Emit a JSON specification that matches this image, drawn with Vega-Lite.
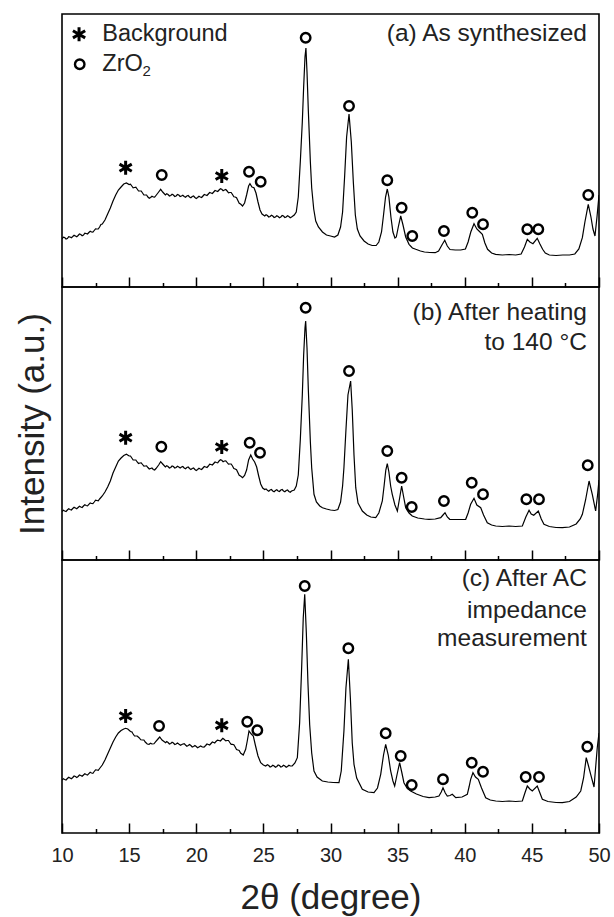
{
"$schema":"https://vega.github.io/schema/vega-lite/v6.json",
"padding":{"left":14,"top":13,"right":0,"bottom":0},
"background":"white",
"config":{"font":"Liberation Sans","view":{"stroke":"black","strokeWidth":1.6},"axis":{"grid":false}},
"datasets":{
"curveA":[{"t":10.0,"i":48},{"t":10.2,"i":49.5},{"t":10.4,"i":48.5},{"t":10.6,"i":50},{"t":10.8,"i":50.5},{"t":11.0,"i":51},{"t":11.2,"i":51.5},{"t":11.4,"i":52.5},{"t":11.6,"i":52},{"t":11.8,"i":53.5},{"t":12.0,"i":54.5},{"t":12.2,"i":55},{"t":12.4,"i":56.5},{"t":12.6,"i":58},{"t":12.8,"i":60},{"t":13.0,"i":63},{"t":13.2,"i":67},{"t":13.4,"i":73},{"t":13.6,"i":79},{"t":13.8,"i":86},{"t":14.0,"i":92},{"t":14.2,"i":97},{"t":14.4,"i":100},{"t":14.6,"i":103},{"t":14.8,"i":104},{"t":15.0,"i":102.5},{"t":15.2,"i":101},{"t":15.4,"i":99.5},{"t":15.6,"i":98},{"t":15.8,"i":96},{"t":16.0,"i":94},{"t":16.2,"i":92},{"t":16.4,"i":90},{"t":16.6,"i":89.5},{"t":16.8,"i":90},{"t":17.0,"i":91.5},{"t":17.2,"i":95},{"t":17.35,"i":97.7},{"t":17.5,"i":95},{"t":17.7,"i":92},{"t":17.9,"i":92.5},{"t":18.1,"i":91.5},{"t":18.3,"i":92},{"t":18.5,"i":91},{"t":18.7,"i":92},{"t":18.9,"i":91},{"t":19.1,"i":90.5},{"t":19.3,"i":91},{"t":19.5,"i":90},{"t":19.7,"i":90.5},{"t":19.9,"i":89.5},{"t":20.1,"i":89.5},{"t":20.3,"i":90},{"t":20.5,"i":91},{"t":20.7,"i":92},{"t":20.9,"i":93},{"t":21.1,"i":94},{"t":21.3,"i":95},{"t":21.5,"i":96},{"t":21.7,"i":97},{"t":21.9,"i":97.7},{"t":22.1,"i":97},{"t":22.3,"i":96},{"t":22.5,"i":94.5},{"t":22.7,"i":92.5},{"t":22.9,"i":90},{"t":23.1,"i":86.5},{"t":23.3,"i":83},{"t":23.45,"i":81},{"t":23.6,"i":84},{"t":23.75,"i":92},{"t":23.9,"i":101},{"t":24.0,"i":103.3},{"t":24.15,"i":100},{"t":24.3,"i":99.3},{"t":24.45,"i":94},{"t":24.6,"i":85},{"t":24.75,"i":77},{"t":24.9,"i":73},{"t":25.1,"i":71},{"t":25.3,"i":71.5},{"t":25.5,"i":70.5},{"t":25.7,"i":71},{"t":25.9,"i":70},{"t":26.1,"i":70.5},{"t":26.3,"i":70},{"t":26.5,"i":71},{"t":26.7,"i":70},{"t":26.9,"i":70.5},{"t":27.1,"i":70},{"t":27.3,"i":72},{"t":27.45,"i":75},{"t":27.6,"i":90},{"t":27.75,"i":125},{"t":27.9,"i":165},{"t":28.0,"i":200},{"t":28.1,"i":230},{"t":28.17,"i":239},{"t":28.25,"i":215},{"t":28.35,"i":176},{"t":28.5,"i":125},{"t":28.6,"i":99},{"t":28.75,"i":78},{"t":28.9,"i":66},{"t":29.1,"i":60},{"t":29.4,"i":55},{"t":29.7,"i":52},{"t":30.0,"i":51},{"t":30.3,"i":50},{"t":30.55,"i":52},{"t":30.75,"i":60},{"t":30.9,"i":75},{"t":31.05,"i":110},{"t":31.2,"i":150},{"t":31.38,"i":173},{"t":31.55,"i":145},{"t":31.7,"i":105},{"t":31.85,"i":72},{"t":32.0,"i":58},{"t":32.2,"i":51},{"t":32.5,"i":46},{"t":32.8,"i":43},{"t":33.1,"i":41.5},{"t":33.4,"i":41.5},{"t":33.6,"i":45},{"t":33.8,"i":55},{"t":33.95,"i":72},{"t":34.1,"i":90},{"t":34.23,"i":98},{"t":34.35,"i":90},{"t":34.5,"i":70},{"t":34.65,"i":55},{"t":34.8,"i":49},{"t":34.9,"i":50},{"t":35.05,"i":60},{"t":35.23,"i":71},{"t":35.4,"i":62},{"t":35.6,"i":50},{"t":35.85,"i":42.7},{"t":36.1,"i":39},{"t":36.35,"i":37.7},{"t":36.7,"i":36},{"t":37.0,"i":35},{"t":37.4,"i":34.5},{"t":37.8,"i":34.3},{"t":38.05,"i":36},{"t":38.3,"i":42},{"t":38.51,"i":46.7},{"t":38.7,"i":41},{"t":38.9,"i":37.5},{"t":39.3,"i":37},{"t":39.7,"i":37},{"t":40.05,"i":38},{"t":40.25,"i":45},{"t":40.45,"i":55},{"t":40.69,"i":63.3},{"t":40.9,"i":58},{"t":41.06,"i":56},{"t":41.31,"i":52.7},{"t":41.5,"i":44},{"t":41.7,"i":37.7},{"t":42.0,"i":34},{"t":42.3,"i":32.7},{"t":42.8,"i":32},{"t":43.3,"i":32.5},{"t":43.8,"i":32},{"t":44.2,"i":33},{"t":44.45,"i":40},{"t":44.66,"i":47.7},{"t":44.85,"i":45},{"t":45.08,"i":43.3},{"t":45.4,"i":48.7},{"t":45.6,"i":43},{"t":45.8,"i":37.7},{"t":46.0,"i":34},{"t":46.3,"i":32},{"t":46.8,"i":31.5},{"t":47.3,"i":32},{"t":47.8,"i":32},{"t":48.2,"i":33},{"t":48.5,"i":38},{"t":48.76,"i":49.3},{"t":48.95,"i":65},{"t":49.2,"i":82.7},{"t":49.4,"i":70},{"t":49.55,"i":58},{"t":49.7,"i":51},{"t":49.85,"i":70},{"t":50.0,"i":92},
{"t":10.1,"i":49.8},{"t":10.3,"i":48},{"t":10.5,"i":50.3},{"t":10.7,"i":49.3},{"t":10.9,"i":51.8},{"t":11.1,"i":50.2},{"t":11.3,"i":53},{"t":11.5,"i":51.2},{"t":11.7,"i":53.8},{"t":11.9,"i":53},{"t":12.1,"i":55.8},{"t":12.3,"i":54.8},{"t":12.5,"i":58.2},{"t":12.7,"i":58},{"t":12.9,"i":62.5},{"t":15.1,"i":102.8},{"t":15.3,"i":99.2},{"t":15.5,"i":99.8},{"t":15.7,"i":96},{"t":15.9,"i":96},{"t":16.1,"i":92},{"t":16.3,"i":92},{"t":16.5,"i":88.8},{"t":16.7,"i":90.8},{"t":16.9,"i":89.8},{"t":17.8,"i":93.3},{"t":18.0,"i":91},{"t":18.2,"i":92.8},{"t":18.4,"i":90.5},{"t":18.6,"i":92.5},{"t":18.8,"i":90.5},{"t":19.0,"i":91.8},{"t":19.2,"i":89.8},{"t":19.4,"i":91.5},{"t":19.6,"i":89.2},{"t":19.8,"i":91},{"t":20.0,"i":88.5},{"t":20.2,"i":90.8},{"t":20.4,"i":89.5},{"t":20.6,"i":92.5},{"t":20.8,"i":91.5},{"t":21.0,"i":94.5},{"t":21.2,"i":93.5},{"t":21.4,"i":96.5},{"t":21.6,"i":95.5},{"t":21.8,"i":98.3},{"t":22.0,"i":96.3},{"t":22.2,"i":97.5},{"t":22.4,"i":94.2},{"t":22.6,"i":94.5},{"t":22.8,"i":90.2},{"t":23.0,"i":89.2},{"t":23.2,"i":83.8},{"t":25.2,"i":72.3},{"t":25.4,"i":70},{"t":25.6,"i":71.8},{"t":25.8,"i":69.5},{"t":26.0,"i":71.3},{"t":26.2,"i":69.2},{"t":26.4,"i":71.5},{"t":26.6,"i":69.5},{"t":26.8,"i":71.3},{"t":27.0,"i":69.2}],
"curveB":[{"t":10.0,"i":48.5},{"t":10.2,"i":49},{"t":10.4,"i":50},{"t":10.6,"i":50.5},{"t":10.8,"i":51.5},{"t":11.0,"i":52},{"t":11.2,"i":52.5},{"t":11.4,"i":53},{"t":11.6,"i":54},{"t":11.8,"i":54.5},{"t":12.0,"i":55.7},{"t":12.2,"i":56.5},{"t":12.4,"i":58},{"t":12.6,"i":59.5},{"t":12.8,"i":61},{"t":13.0,"i":64},{"t":13.2,"i":68},{"t":13.4,"i":73},{"t":13.6,"i":79},{"t":13.8,"i":87},{"t":14.0,"i":93},{"t":14.2,"i":99},{"t":14.4,"i":102},{"t":14.6,"i":104.5},{"t":14.8,"i":105.7},{"t":15.0,"i":104},{"t":15.2,"i":102},{"t":15.4,"i":100},{"t":15.6,"i":98},{"t":15.8,"i":97},{"t":16.0,"i":95.5},{"t":16.2,"i":94},{"t":16.4,"i":92.5},{"t":16.6,"i":91.5},{"t":16.8,"i":90.5},{"t":17.0,"i":91.5},{"t":17.2,"i":95},{"t":17.35,"i":98.3},{"t":17.5,"i":96},{"t":17.7,"i":93},{"t":17.9,"i":93.5},{"t":18.1,"i":92.5},{"t":18.3,"i":93.5},{"t":18.5,"i":92.5},{"t":18.7,"i":93},{"t":18.9,"i":93},{"t":19.1,"i":92},{"t":19.3,"i":92.5},{"t":19.5,"i":91.5},{"t":19.7,"i":91.5},{"t":19.9,"i":90.5},{"t":20.1,"i":90.5},{"t":20.3,"i":91},{"t":20.5,"i":92},{"t":20.7,"i":93},{"t":20.9,"i":94},{"t":21.1,"i":95.5},{"t":21.3,"i":96.5},{"t":21.5,"i":97.5},{"t":21.7,"i":99},{"t":21.9,"i":99.7},{"t":22.1,"i":99},{"t":22.3,"i":97.5},{"t":22.5,"i":96},{"t":22.7,"i":94},{"t":22.9,"i":91},{"t":23.1,"i":87.5},{"t":23.3,"i":84},{"t":23.45,"i":82.3},{"t":23.6,"i":84.5},{"t":23.75,"i":90},{"t":23.9,"i":100},{"t":24.06,"i":105},{"t":24.2,"i":101},{"t":24.35,"i":98},{"t":24.5,"i":93},{"t":24.65,"i":84},{"t":24.8,"i":76},{"t":24.95,"i":72},{"t":25.1,"i":70.5},{"t":25.3,"i":69.7},{"t":25.5,"i":70},{"t":25.7,"i":69},{"t":25.9,"i":69.5},{"t":26.1,"i":69},{"t":26.3,"i":70},{"t":26.5,"i":69},{"t":26.7,"i":69.5},{"t":26.9,"i":68.5},{"t":27.1,"i":69},{"t":27.3,"i":70},{"t":27.45,"i":74},{"t":27.6,"i":85},{"t":27.75,"i":120},{"t":27.9,"i":165},{"t":28.0,"i":205},{"t":28.1,"i":232},{"t":28.15,"i":239},{"t":28.25,"i":212},{"t":28.35,"i":170},{"t":28.5,"i":118},{"t":28.6,"i":92},{"t":28.77,"i":65.7},{"t":28.95,"i":58},{"t":29.2,"i":54},{"t":29.4,"i":52.3},{"t":29.7,"i":51},{"t":30.0,"i":50},{"t":30.3,"i":49.5},{"t":30.55,"i":50.5},{"t":30.75,"i":58},{"t":30.9,"i":74},{"t":31.0,"i":92.3},{"t":31.15,"i":130},{"t":31.3,"i":165},{"t":31.5,"i":179},{"t":31.62,"i":150},{"t":31.75,"i":105},{"t":31.88,"i":72.3},{"t":32.05,"i":57},{"t":32.37,"i":49},{"t":32.7,"i":45},{"t":33.0,"i":43},{"t":33.37,"i":42.3},{"t":33.6,"i":47},{"t":33.86,"i":59},{"t":34.0,"i":75},{"t":34.12,"i":90},{"t":34.23,"i":96.3},{"t":34.35,"i":88},{"t":34.48,"i":74},{"t":34.6,"i":65.7},{"t":34.8,"i":55},{"t":34.98,"i":49},{"t":35.15,"i":62},{"t":35.3,"i":74},{"t":35.45,"i":63},{"t":35.6,"i":52.3},{"t":35.85,"i":47},{"t":36.09,"i":44},{"t":36.5,"i":42},{"t":37.0,"i":41},{"t":37.34,"i":40.7},{"t":37.8,"i":41},{"t":38.21,"i":42.3},{"t":38.38,"i":45},{"t":38.53,"i":47.3},{"t":38.7,"i":43},{"t":38.88,"i":40.7},{"t":39.3,"i":40.5},{"t":39.7,"i":40.5},{"t":40.07,"i":40.7},{"t":40.25,"i":47},{"t":40.44,"i":55.7},{"t":40.69,"i":61.7},{"t":40.9,"i":55},{"t":41.19,"i":52.3},{"t":41.4,"i":45},{"t":41.68,"i":37.3},{"t":42.0,"i":35},{"t":42.31,"i":34},{"t":42.8,"i":33.5},{"t":43.3,"i":34},{"t":43.8,"i":33.5},{"t":44.29,"i":34},{"t":44.55,"i":43},{"t":44.79,"i":49.7},{"t":44.95,"i":46},{"t":45.14,"i":44.7},{"t":45.48,"i":49},{"t":45.7,"i":41},{"t":45.9,"i":35.7},{"t":46.3,"i":33.5},{"t":46.8,"i":32.5},{"t":47.27,"i":32.3},{"t":47.8,"i":33},{"t":48.3,"i":36},{"t":48.6,"i":41},{"t":48.76,"i":45.7},{"t":49.0,"i":60},{"t":49.26,"i":79},{"t":49.5,"i":65.7},{"t":49.75,"i":49},{"t":49.9,"i":65.7},{"t":50.0,"i":80},
{"t":10.1,"i":49.7},{"t":10.3,"i":48.5},{"t":10.5,"i":51.2},{"t":10.7,"i":50},{"t":10.9,"i":52.8},{"t":11.1,"i":51.2},{"t":11.3,"i":53.8},{"t":11.5,"i":52.5},{"t":11.7,"i":55.2},{"t":11.9,"i":54.1},{"t":12.1,"i":57},{"t":12.3,"i":56.3},{"t":12.5,"i":59.8},{"t":12.7,"i":59.2},{"t":15.1,"i":104},{"t":15.3,"i":100},{"t":15.5,"i":100},{"t":15.7,"i":96.5},{"t":15.9,"i":97.2},{"t":16.1,"i":93.8},{"t":16.3,"i":94.2},{"t":16.5,"i":91},{"t":16.7,"i":92},{"t":16.9,"i":90},{"t":17.8,"i":94.2},{"t":18.0,"i":92},{"t":18.2,"i":94},{"t":18.4,"i":92},{"t":18.6,"i":93.8},{"t":18.8,"i":92},{"t":19.0,"i":93.5},{"t":19.2,"i":91.2},{"t":19.4,"i":93},{"t":19.6,"i":90.5},{"t":19.8,"i":92},{"t":20.0,"i":89.5},{"t":20.2,"i":91.8},{"t":20.4,"i":90.5},{"t":20.6,"i":93.5},{"t":20.8,"i":92.5},{"t":21.0,"i":95.8},{"t":21.2,"i":95},{"t":21.4,"i":98},{"t":21.6,"i":97.2},{"t":21.8,"i":100.3},{"t":22.0,"i":98.3},{"t":22.2,"i":99.2},{"t":22.4,"i":95.8},{"t":22.6,"i":96},{"t":22.8,"i":91.5},{"t":23.0,"i":90.2},{"t":23.2,"i":84.8},{"t":25.2,"i":71.1},{"t":25.4,"i":68.8},{"t":25.6,"i":70.5},{"t":25.8,"i":68.2},{"t":26.0,"i":70.3},{"t":26.2,"i":68.5},{"t":26.4,"i":70.5},{"t":26.6,"i":68.2},{"t":26.8,"i":70},{"t":27.0,"i":67.8}],
"curveC":[{"t":10.0,"i":53},{"t":10.2,"i":53.5},{"t":10.4,"i":54.5},{"t":10.6,"i":55},{"t":10.8,"i":55.5},{"t":11.0,"i":56.5},{"t":11.2,"i":56.5},{"t":11.4,"i":57.5},{"t":11.6,"i":58},{"t":11.8,"i":58.5},{"t":12.0,"i":59.3},{"t":12.2,"i":60},{"t":12.4,"i":61.5},{"t":12.6,"i":63},{"t":12.8,"i":64.5},{"t":13.0,"i":68},{"t":13.2,"i":73},{"t":13.4,"i":79},{"t":13.6,"i":85},{"t":13.8,"i":91},{"t":14.0,"i":96},{"t":14.2,"i":100},{"t":14.4,"i":102.5},{"t":14.6,"i":104},{"t":14.74,"i":104.7},{"t":14.9,"i":104},{"t":15.1,"i":101.5},{"t":15.3,"i":99},{"t":15.5,"i":97},{"t":15.74,"i":95.3},{"t":16.0,"i":93},{"t":16.2,"i":91},{"t":16.48,"i":88.7},{"t":16.7,"i":89},{"t":16.98,"i":91.3},{"t":17.15,"i":94},{"t":17.28,"i":96},{"t":17.45,"i":93},{"t":17.72,"i":90.3},{"t":17.9,"i":90.5},{"t":18.1,"i":89.5},{"t":18.3,"i":90},{"t":18.5,"i":89},{"t":18.7,"i":89},{"t":18.96,"i":88.7},{"t":19.2,"i":88},{"t":19.4,"i":87.5},{"t":19.6,"i":87.5},{"t":19.8,"i":86.5},{"t":20.0,"i":86.5},{"t":20.2,"i":86},{"t":20.45,"i":86},{"t":20.7,"i":87.5},{"t":20.9,"i":88.5},{"t":21.1,"i":89.5},{"t":21.3,"i":90.5},{"t":21.45,"i":91.3},{"t":21.7,"i":92.5},{"t":21.9,"i":93.5},{"t":22.07,"i":93.7},{"t":22.3,"i":92.5},{"t":22.5,"i":90.5},{"t":22.69,"i":88.7},{"t":22.9,"i":86},{"t":23.1,"i":83},{"t":23.3,"i":80},{"t":23.5,"i":78},{"t":23.68,"i":83.7},{"t":23.8,"i":92},{"t":23.93,"i":102},{"t":24.1,"i":99},{"t":24.25,"i":97},{"t":24.4,"i":88},{"t":24.6,"i":77},{"t":24.8,"i":70.3},{"t":25.0,"i":68},{"t":25.17,"i":67},{"t":25.4,"i":67.5},{"t":25.6,"i":66.5},{"t":25.8,"i":67},{"t":26.0,"i":66.5},{"t":26.2,"i":67.5},{"t":26.4,"i":66.5},{"t":26.6,"i":67},{"t":26.8,"i":66.5},{"t":27.0,"i":67},{"t":27.15,"i":67},{"t":27.35,"i":70},{"t":27.53,"i":75.3},{"t":27.7,"i":110},{"t":27.85,"i":165},{"t":27.97,"i":215},{"t":28.08,"i":238.7},{"t":28.2,"i":200},{"t":28.32,"i":150},{"t":28.45,"i":108},{"t":28.6,"i":80},{"t":28.77,"i":62},{"t":29.0,"i":56},{"t":29.39,"i":52},{"t":29.8,"i":51},{"t":30.2,"i":50.5},{"t":30.63,"i":50.3},{"t":30.8,"i":62},{"t":31.0,"i":102},{"t":31.15,"i":145},{"t":31.33,"i":173.7},{"t":31.48,"i":135},{"t":31.62,"i":90},{"t":31.75,"i":68.7},{"t":31.95,"i":55},{"t":32.37,"i":43.7},{"t":32.8,"i":41},{"t":33.24,"i":40.3},{"t":33.5,"i":45},{"t":33.74,"i":58.7},{"t":33.95,"i":78},{"t":34.11,"i":88.7},{"t":34.3,"i":78},{"t":34.48,"i":62},{"t":34.65,"i":52},{"t":34.78,"i":47},{"t":34.95,"i":58},{"t":35.15,"i":70.3},{"t":35.32,"i":60},{"t":35.47,"i":50.3},{"t":35.7,"i":45},{"t":35.97,"i":42},{"t":36.4,"i":39},{"t":36.9,"i":36.5},{"t":37.34,"i":35.3},{"t":37.8,"i":36},{"t":38.08,"i":37},{"t":38.25,"i":41},{"t":38.38,"i":45.3},{"t":38.55,"i":40},{"t":38.7,"i":37},{"t":38.9,"i":37.5},{"t":39.07,"i":38.7},{"t":39.33,"i":35.3},{"t":39.8,"i":36},{"t":40.19,"i":38.7},{"t":40.32,"i":46},{"t":40.44,"i":53.7},{"t":40.61,"i":60.3},{"t":40.8,"i":56},{"t":41.01,"i":53.7},{"t":41.25,"i":45},{"t":41.56,"i":35.3},{"t":41.9,"i":33},{"t":42.31,"i":32},{"t":42.8,"i":31.5},{"t":43.3,"i":32},{"t":43.8,"i":31.5},{"t":44.29,"i":32},{"t":44.48,"i":40},{"t":44.66,"i":47},{"t":44.85,"i":44},{"t":45.03,"i":42},{"t":45.4,"i":47},{"t":45.6,"i":40},{"t":45.78,"i":33.7},{"t":46.2,"i":31.5},{"t":46.8,"i":30.5},{"t":47.27,"i":30.3},{"t":47.8,"i":31.5},{"t":48.3,"i":36},{"t":48.64,"i":42},{"t":48.85,"i":55},{"t":49.05,"i":75.3},{"t":49.2,"i":68},{"t":49.38,"i":58.7},{"t":49.63,"i":46},{"t":49.87,"i":85.3},{"t":50.0,"i":100},
{"t":10.1,"i":54.2},{"t":10.3,"i":53},{"t":10.5,"i":55.8},{"t":10.7,"i":54.2},{"t":10.9,"i":57},{"t":11.1,"i":55.5},{"t":11.3,"i":58},{"t":11.5,"i":56.7},{"t":11.7,"i":59.2},{"t":11.9,"i":57.9},{"t":12.1,"i":60.7},{"t":12.3,"i":59.7},{"t":12.5,"i":63.2},{"t":12.7,"i":62.7},{"t":15.2,"i":101.2},{"t":15.4,"i":97},{"t":15.6,"i":97},{"t":15.87,"i":93.2},{"t":16.1,"i":93},{"t":16.35,"i":89},{"t":16.6,"i":89.8},{"t":16.85,"i":89.2},{"t":17.8,"i":91.4},{"t":18.0,"i":89},{"t":18.2,"i":90.8},{"t":18.4,"i":88.5},{"t":18.6,"i":90},{"t":18.83,"i":87.8},{"t":19.1,"i":89.4},{"t":19.3,"i":86.8},{"t":19.5,"i":88.5},{"t":19.7,"i":86},{"t":19.9,"i":87.5},{"t":20.1,"i":85.2},{"t":20.33,"i":87},{"t":20.58,"i":85.8},{"t":20.8,"i":89},{"t":21.0,"i":88},{"t":21.2,"i":91},{"t":21.38,"i":90},{"t":21.58,"i":92.9},{"t":21.8,"i":92},{"t":21.98,"i":94.6},{"t":22.2,"i":92.1},{"t":22.4,"i":92.5},{"t":22.6,"i":88.6},{"t":22.8,"i":88.3},{"t":23.0,"i":83.5},{"t":23.2,"i":82.5},{"t":25.3,"i":68.3},{"t":25.5,"i":66},{"t":25.7,"i":67.8},{"t":25.9,"i":65.8},{"t":26.1,"i":68},{"t":26.3,"i":66},{"t":26.5,"i":67.8},{"t":26.7,"i":65.8},{"t":26.9,"i":67.8}],
"markA":[{"t":11.27,"i":252.7,"k":"*"},{"t":11.32,"i":222.7,"k":"o"},{"t":14.74,"i":119.3,"k":"*"},{"t":21.9,"i":111,"k":"*"},{"t":17.43,"i":112,"k":"o"},{"t":23.93,"i":115.3,"k":"o"},{"t":24.8,"i":105.3,"k":"o"},{"t":28.15,"i":249.3,"k":"o"},{"t":31.38,"i":181,"k":"o"},{"t":34.23,"i":106.7,"k":"o"},{"t":35.3,"i":79.3,"k":"o"},{"t":36.09,"i":51,"k":"o"},{"t":38.45,"i":56,"k":"o"},{"t":40.56,"i":74.3,"k":"o"},{"t":41.36,"i":62.7,"k":"o"},{"t":44.66,"i":57.7,"k":"o"},{"t":45.48,"i":57.7,"k":"o"},{"t":49.2,"i":92,"k":"o"}],
"markB":[{"t":14.74,"i":122.3,"k":"*"},{"t":21.9,"i":113,"k":"*"},{"t":17.4,"i":113.3,"k":"o"},{"t":23.98,"i":117.3,"k":"o"},{"t":24.75,"i":107.3,"k":"o"},{"t":28.15,"i":252.3,"k":"o"},{"t":31.38,"i":189,"k":"o"},{"t":34.23,"i":109,"k":"o"},{"t":35.3,"i":82.3,"k":"o"},{"t":36.05,"i":53,"k":"o"},{"t":38.45,"i":59,"k":"o"},{"t":40.52,"i":77.3,"k":"o"},{"t":41.36,"i":65.7,"k":"o"},{"t":44.59,"i":60.7,"k":"o"},{"t":45.53,"i":60.7,"k":"o"},{"t":49.16,"i":94.7,"k":"o"}],
"markC":[{"t":14.74,"i":117,"k":"*"},{"t":21.9,"i":107.7,"k":"*"},{"t":17.23,"i":107,"k":"o"},{"t":23.8,"i":111.3,"k":"o"},{"t":24.55,"i":102.7,"k":"o"},{"t":28.08,"i":247,"k":"o"},{"t":31.33,"i":184.7,"k":"o"},{"t":34.11,"i":99.7,"k":"o"},{"t":35.23,"i":77,"k":"o"},{"t":36.05,"i":48,"k":"o"},{"t":38.38,"i":53.7,"k":"o"},{"t":40.52,"i":70.3,"k":"o"},{"t":41.36,"i":61.3,"k":"o"},{"t":44.54,"i":56,"k":"o"},{"t":45.53,"i":56,"k":"o"},{"t":49.13,"i":86.3,"k":"o"}],
"labelA":[{"t":49.1,"i":253,"s":"(a) As synthesized"}],
"labelB":[{"t":49.1,"i":247.3,"s":"(b) After heating"},{"t":49.1,"i":217.3,"s":"to 140 °C"}],
"labelC":[{"t":49.1,"i":254,"s":"(c) After AC"},{"t":49.1,"i":222,"s":"impedance"},{"t":49.1,"i":193.7,"s":"measurement"}],
"legendText":[{"t":13.0,"i":253,"s":"Background"},{"t":13.0,"i":223,"s":"ZrO"}],
"legendSub":[{"t":15.99,"i":216,"s":"2"}]
},
"vconcat":[
{"width":537,"height":273,
 "encoding":{
  "x":{"field":"t","type":"quantitative","scale":{"domain":[10,50],"nice":false,"zero":false},
       "axis":{"values":[10,12.5,15,17.5,20,22.5,25,27.5,30,32.5,35,37.5,40,42.5,45,47.5,50],"labels":false,"title":null,"domain":false,"zindex":2,"tickColor":"black","tickWidth":1.5,"tickSize":{"condition":{"test":"datum.value % 5 === 0","value":-10},"value":-4.5}}},
  "y":{"field":"i","type":"quantitative","scale":{"domain":[0,273],"nice":false,"zero":false},"axis":null}},
 "layer":[
  {"data":{"name":"curveA"},"mark":{"type":"line","color":"black","strokeWidth":1.2,"clip":true}},
  {"data":{"name":"markA"},"transform":[{"filter":"datum.k === 'o'"}],"mark":{"type":"point","shape":"circle","filled":false,"stroke":"black","strokeWidth":2.4,"size":90,"opacity":1}},
  {"data":{"name":"markA"},"transform":[{"filter":"datum.k === '*'"}],"mark":{"type":"point","shape":"M0,-1L0,1M-0.866,-0.5L0.866,0.5M-0.866,0.5L0.866,-0.5","filled":false,"stroke":"black","strokeWidth":3,"size":200,"opacity":1}},
  {"data":{"name":"labelA"},"mark":{"type":"text","align":"right","baseline":"middle","fontSize":24.5,"color":"#222"},"encoding":{"text":{"field":"s"}}},
  {"data":{"name":"legendText"},"mark":{"type":"text","align":"left","baseline":"middle","fontSize":23.5,"color":"#222"},"encoding":{"text":{"field":"s"}}},
  {"data":{"name":"legendSub"},"mark":{"type":"text","align":"left","baseline":"middle","fontSize":15,"color":"#222"},"encoding":{"text":{"field":"s"}}}
 ]},
{"width":537,"height":273,
 "encoding":{
  "x":{"field":"t","type":"quantitative","scale":{"domain":[10,50],"nice":false,"zero":false},
       "axis":{"values":[10,12.5,15,17.5,20,22.5,25,27.5,30,32.5,35,37.5,40,42.5,45,47.5,50],"labels":false,"title":null,"domain":false,"zindex":2,"tickColor":"black","tickWidth":1.5,"tickSize":{"condition":{"test":"datum.value % 5 === 0","value":-10},"value":-4.5}}},
  "y":{"field":"i","type":"quantitative","scale":{"domain":[0,273],"nice":false,"zero":false},
       "axis":{"title":"Intensity (a.u.)","labels":false,"ticks":false,"domain":false,"titleFontSize":35,"titleFontWeight":"normal","titleColor":"#222","titlePadding":12}}},
 "layer":[
  {"data":{"name":"curveB"},"mark":{"type":"line","color":"black","strokeWidth":1.2,"clip":true}},
  {"data":{"name":"markB"},"transform":[{"filter":"datum.k === 'o'"}],"mark":{"type":"point","shape":"circle","filled":false,"stroke":"black","strokeWidth":2.4,"size":90,"opacity":1}},
  {"data":{"name":"markB"},"transform":[{"filter":"datum.k === '*'"}],"mark":{"type":"point","shape":"M0,-1L0,1M-0.866,-0.5L0.866,0.5M-0.866,0.5L0.866,-0.5","filled":false,"stroke":"black","strokeWidth":3,"size":200,"opacity":1}},
  {"data":{"name":"labelB"},"mark":{"type":"text","align":"right","baseline":"middle","fontSize":24.5,"color":"#222"},"encoding":{"text":{"field":"s"}}}
 ]},
{"width":537,"height":273,
 "encoding":{
  "x":{"field":"t","type":"quantitative","scale":{"domain":[10,50],"nice":false,"zero":false},
       "axis":{"values":[10,12.5,15,17.5,20,22.5,25,27.5,30,32.5,35,37.5,40,42.5,45,47.5,50],"labelExpr":"datum.value % 5 === 0 ? datum.label : ''","labelFontSize":20,"labelColor":"#222","labelFlush":false,"labelOverlap":false,"labelPadding":22,"title":"2θ (degree)","titleFontSize":35,"titleFontWeight":"normal","titleColor":"#222","titlePadding":10,"domain":false,"zindex":2,"tickColor":"black","tickWidth":1.5,"tickSize":{"condition":{"test":"datum.value % 5 === 0","value":-10},"value":-4.5}}},
  "y":{"field":"i","type":"quantitative","scale":{"domain":[0,273],"nice":false,"zero":false},"axis":null}},
 "layer":[
  {"data":{"name":"curveC"},"mark":{"type":"line","color":"black","strokeWidth":1.2,"clip":true}},
  {"data":{"name":"markC"},"transform":[{"filter":"datum.k === 'o'"}],"mark":{"type":"point","shape":"circle","filled":false,"stroke":"black","strokeWidth":2.4,"size":90,"opacity":1}},
  {"data":{"name":"markC"},"transform":[{"filter":"datum.k === '*'"}],"mark":{"type":"point","shape":"M0,-1L0,1M-0.866,-0.5L0.866,0.5M-0.866,0.5L0.866,-0.5","filled":false,"stroke":"black","strokeWidth":3,"size":200,"opacity":1}},
  {"data":{"name":"labelC"},"mark":{"type":"text","align":"right","baseline":"middle","fontSize":24.5,"color":"#222"},"encoding":{"text":{"field":"s"}}}
 ]}
],
"spacing":0,
"bounds":"flush"
}
